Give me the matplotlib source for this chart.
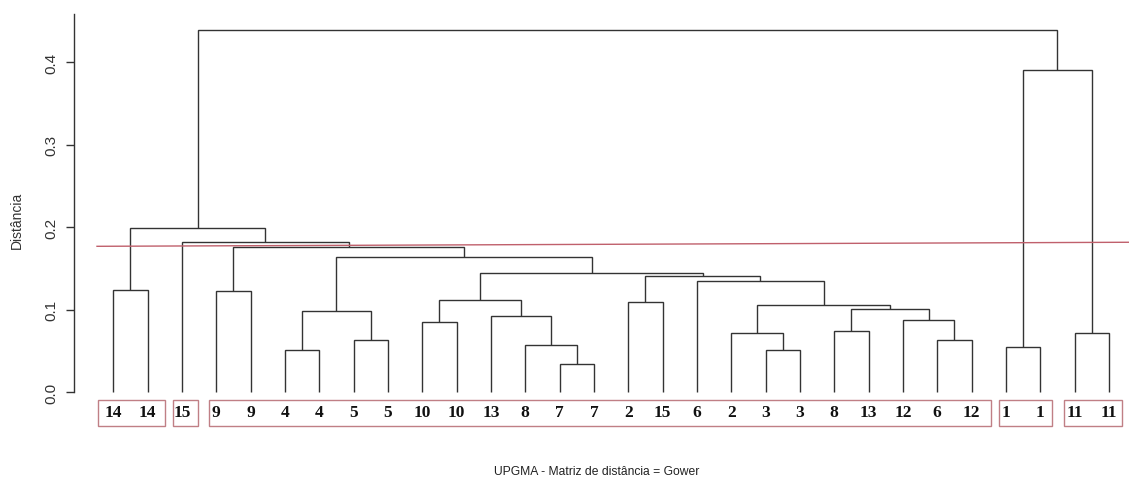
import matplotlib
matplotlib.use("Agg")
import matplotlib.pyplot as plt
from matplotlib.patches import Rectangle

# ---------------- data ----------------
leaf_labels = ["14", "14", "15", "9", "9", "4", "4", "5", "5", "10", "10", "13", "8", "7", "7",
               "2", "15", "6", "2", "3", "3", "8", "13", "12", "6", "12", "1", "1", "11", "11"]

# merges: (left, right, height); ints >= 0 are leaves, strings "mK" are earlier merges
merges = [
    (0, 1, 0.1233),        # m1
    (3, 4, 0.1230),        # m2
    (5, 6, 0.0505),        # m3
    (7, 8, 0.0627),        # m4
    ("m3", "m4", 0.0980),  # m5
    (9, 10, 0.0850),       # m6
    (13, 14, 0.0335),      # m7
    (12, "m7", 0.0567),    # m8
    (11, "m8", 0.0918),    # m9
    ("m6", "m9", 0.1110),  # m10
    (15, 16, 0.1090),      # m11
    (19, 20, 0.0505),      # m12
    (18, "m12", 0.0712),   # m13
    (21, 22, 0.0744),      # m14
    (24, 25, 0.0633),      # m15
    (23, "m15", 0.0878),   # m16
    ("m14", "m16", 0.1003),  # m17
    ("m13", "m17", 0.1050),  # m18
    (17, "m18", 0.1340),   # m19
    ("m11", "m19", 0.1410),  # m20
    ("m10", "m20", 0.1440),  # m21
    ("m5", "m21", 0.1640),   # m22
    ("m2", "m22", 0.1754),   # m23
    (2, "m23", 0.1820),      # m24
    ("m1", "m24", 0.1985),   # m25
    (26, 27, 0.0542),        # m26
    (28, 29, 0.0712),        # m27
    ("m26", "m27", 0.3900),  # m28
    ("m25", "m28", 0.4388),  # m29
]

# groups of leaves framed by boxes (first leaf, last leaf)
groups = [(0, 1), (2, 2), (3, 25), (26, 27), (28, 29)]

# cut line heights (left end, right end)
cut_heights = [0.1766, 0.1815]

yticks = [0.0, 0.1, 0.2, 0.3, 0.4]
ylabel = "Distância"
xlabel = "UPGMA - Matriz de distância = Gower"

# ---------------- figure ----------------
W, H, DPI = 1129, 489, 100
fig = plt.figure(figsize=(W / DPI, H / DPI), dpi=DPI)

# pixel geometry
x_spine = 73.7
leaf0_px, step_px = 113.3, 34.33
y0_px, unit_px = 393.0, 825.0
top_px, bottom_px = 15.0, 440.0

ax = fig.add_axes([x_spine / W, 1 - bottom_px / H, (W - x_spine) / W, (bottom_px - top_px) / H])
ax.set_xlim((x_spine - leaf0_px) / step_px, (W - leaf0_px) / step_px)
ax.set_ylim(-(bottom_px - y0_px) / unit_px, (y0_px - top_px) / unit_px)

line_col = "#333333"
pos = {}
hgt = {}
for i in range(len(leaf_labels)):
    pos[i] = float(i)
    hgt[i] = 0.0
for k, (a, b, h) in enumerate(merges, start=1):
    xa, xb = pos[a], pos[b]
    ha, hb = hgt[a], hgt[b]
    ax.plot([xa, xa, xb, xb], [ha, h, h, hb], color=line_col, lw=1.0,
            solid_joinstyle="miter", solid_capstyle="butt")
    name = "m%d" % k
    pos[name] = (xa + xb) / 2
    hgt[name] = h

# leaf labels
for i, lab in enumerate(leaf_labels):
    ax.text(i, -(413 - y0_px) / unit_px, lab, ha="center", va="center",
            fontsize=12.5, fontweight="bold", family="Liberation Serif", color="#111111")

# boxes
box_col = "#c07f85"
pads = [(0.46, 0.50), (0.27, 0.46), (0.20, 0.57), (0.21, 0.34), (0.31, 0.37)]
for (g0, g1), (pl, pr) in zip(groups, pads):
    yb = -(427 - y0_px) / unit_px
    yt = -(400.5 - y0_px) / unit_px
    ax.add_patch(Rectangle((g0 - pl, yb), (g1 + pr) - (g0 - pl), yt - yb,
                           fill=False, edgecolor=box_col, lw=1.0))

# cut line
x_left = (97 - leaf0_px) / step_px
x_right = (W - leaf0_px) / step_px
ax.plot([x_left, x_right], cut_heights, color="#c0606c", lw=1.0)

# axes styling
for s in ["top", "right", "bottom"]:
    ax.spines[s].set_visible(False)
ax.spines["left"].set_bounds(0, (y0_px - top_px) / unit_px)
ax.spines["left"].set_color("#333333")
ax.spines["left"].set_linewidth(1.0)
ax.set_xticks([])
ax.set_yticks(yticks)
ax.set_yticklabels(["%.1f" % t for t in yticks], rotation=90, va="center",
                   family="Liberation Sans", fontsize=11, color="#333333")
ax.tick_params(axis="y", length=6, width=1.0, color="#333333", pad=5)
fig.text(17 / W, 1 - 220 / H, ylabel, rotation=90, ha="center", va="center",
         family="Liberation Sans", fontsize=10, color="#333333")
fig.text(597 / W, 1 - 472 / H, xlabel, ha="center", va="center",
         family="Liberation Sans", fontsize=8.7, color="#222222")

fig.savefig("out.png", dpi=DPI)
